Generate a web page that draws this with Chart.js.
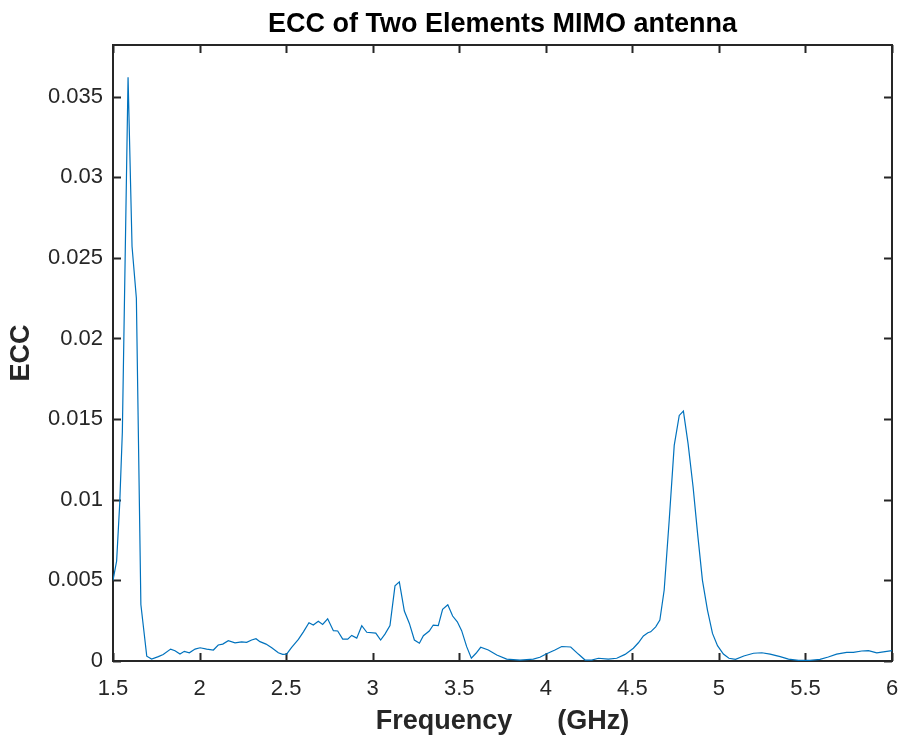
<!DOCTYPE html>
<html>
<head>
<meta charset="utf-8">
<title>ECC of Two Elements MIMO antenna</title>
<script src="https://cdn.jsdelivr.net/npm/chart.js@4.4.1/dist/chart.umd.min.js"></script>
<style>
  html, body { margin: 0; padding: 0; background: #fff; }
  #wrap { width: 901px; height: 738px; }
</style>
</head>
<body>
<div id="wrap"><canvas id="eccChart" width="901" height="738"></canvas></div>
<script>
// frequency sweep (GHz) and envelope correlation coefficient
var freqGHz = [
  1.500, 1.521, 1.539, 1.554, 1.587, 1.610, 1.635, 1.661, 1.695, 1.723,
  1.762, 1.790, 1.833, 1.858, 1.887, 1.912, 1.941, 1.974, 2.003, 2.041,
  2.080, 2.108, 2.134, 2.166, 2.205, 2.243, 2.272, 2.301, 2.326, 2.349,
  2.384, 2.417, 2.455, 2.480, 2.503, 2.532, 2.571, 2.600, 2.632, 2.657,
  2.686, 2.711, 2.740, 2.773, 2.798, 2.827, 2.856, 2.879, 2.908, 2.937,
  2.966, 3.018, 3.046, 3.071, 3.100, 3.129, 3.154, 3.183, 3.212, 3.241,
  3.270, 3.293, 3.327, 3.350, 3.379, 3.404, 3.434, 3.462, 3.489, 3.514,
  3.543, 3.570, 3.597, 3.624, 3.668, 3.717, 3.774, 3.851, 3.928, 3.966,
  4.005, 4.053, 4.092, 4.144, 4.188, 4.227, 4.265, 4.304, 4.361, 4.410,
  4.458, 4.506, 4.535, 4.564, 4.590, 4.606, 4.635, 4.659, 4.684, 4.713,
  4.742, 4.771, 4.795, 4.822, 4.851, 4.877, 4.905, 4.934, 4.963, 4.992,
  5.026, 5.058, 5.096, 5.144, 5.200, 5.248, 5.296, 5.354, 5.402, 5.460,
  5.526, 5.584, 5.632, 5.680, 5.738, 5.777, 5.825, 5.864, 5.912, 5.960,
  6.000
];
var ecc = [
  0.00500, 0.00620, 0.00980, 0.01420, 0.03620, 0.02570, 0.02250, 0.00350, 0.00030, 0.00012,
  0.00027, 0.00040, 0.00074, 0.00064, 0.00043, 0.00060, 0.00051, 0.00074, 0.00082, 0.00074,
  0.00068, 0.00099, 0.00105, 0.00126, 0.00113, 0.00118, 0.00116, 0.00130, 0.00138, 0.00120,
  0.00105, 0.00082, 0.00051, 0.00041, 0.00043, 0.00085, 0.00134, 0.00181, 0.00237, 0.00223,
  0.00246, 0.00227, 0.00262, 0.00188, 0.00186, 0.00136, 0.00136, 0.00159, 0.00142, 0.00219,
  0.00178, 0.00173, 0.00130, 0.00167, 0.00220, 0.00466, 0.00491, 0.00310, 0.00233, 0.00130,
  0.00110, 0.00157, 0.00186, 0.00223, 0.00219, 0.00320, 0.00349, 0.00279, 0.00243, 0.00188,
  0.00089, 0.00017, 0.00048, 0.00085, 0.00068, 0.00037, 0.00012, 0.00006, 0.00012, 0.00023,
  0.00045, 0.00068, 0.00090, 0.00087, 0.00043, 0.00006, 0.00006, 0.00017, 0.00012, 0.00017,
  0.00041, 0.00079, 0.00113, 0.00155, 0.00175, 0.00181, 0.00212, 0.00254, 0.00440, 0.00873,
  0.01337, 0.01523, 0.01550, 0.01348, 0.01079, 0.00790, 0.00500, 0.00316, 0.00171, 0.00095,
  0.00043, 0.00017, 0.00010, 0.00031, 0.00048, 0.00051, 0.00043, 0.00027, 0.00012, 0.00004,
  0.00004, 0.00010, 0.00025, 0.00043, 0.00054, 0.00054, 0.00062, 0.00064, 0.00051, 0.00058,
  0.00064
];

var titleText = 'ECC of Two Elements MIMO antenna';
var xLabel = 'Frequency      (GHz)';
var yLabel = 'ECC';

var fontFamily = '"Liberation Sans", Arial, Helvetica, sans-serif';
var axisColor = '#262626';

var points = [];
for (var i = 0; i < freqGHz.length; i++) {
  points.push({ x: freqGHz[i], y: ecc[i] });
}

// tick text without trailing zeros: 2, 2.5, 0.01, 0.015 ...
function shortNum(v) {
  return String(parseFloat(Number(v).toFixed(4)));
}

// MATLAB-like boxed axes with inward ticks on all four sides
var boxAxes = {
  id: 'boxAxes',
  beforeDatasetsDraw: function (chart) {
    var ctx = chart.ctx;
    var a = chart.chartArea;
    var xs = chart.scales.x;
    var ys = chart.scales.y;
    var len = 8;
    ctx.save();
    ctx.strokeStyle = axisColor;
    ctx.lineWidth = 2;
    ctx.beginPath();
    xs.ticks.forEach(function (t) {
      var px = Math.round(xs.getPixelForValue(t.value)) + 0.5;
      ctx.moveTo(px, a.bottom);
      ctx.lineTo(px, a.bottom - len);
      ctx.moveTo(px, a.top);
      ctx.lineTo(px, a.top + len);
    });
    ys.ticks.forEach(function (t) {
      var py = Math.round(ys.getPixelForValue(t.value)) + 0.5;
      ctx.moveTo(a.left, py);
      ctx.lineTo(a.left + len, py);
      ctx.moveTo(a.right, py);
      ctx.lineTo(a.right - len, py);
    });
    ctx.stroke();
    ctx.strokeRect(a.left, a.top, a.right - a.left, a.bottom - a.top);
    ctx.restore();
  }
};

var canvasBg = {
  id: 'canvasBg',
  beforeDraw: function (chart) {
    var ctx = chart.ctx;
    ctx.save();
    ctx.fillStyle = '#ffffff';
    ctx.fillRect(0, 0, chart.width, chart.height);
    ctx.restore();
  }
};

new Chart(document.getElementById('eccChart'), {
  type: 'line',
  data: {
    datasets: [{
      data: points,
      borderColor: '#0072BD',
      borderWidth: 1.2,
      pointRadius: 0,
      tension: 0,
      fill: false
    }]
  },
  options: {
    responsive: false,
    animation: false,
    layout: { padding: { left: 0, right: 9, top: 0, bottom: 0 } },
    plugins: {
      legend: { display: false },
      tooltip: { enabled: false },
      title: {
        display: true,
        fullSize: false,
        text: titleText,
        color: '#000',
        font: { family: fontFamily, size: 27, weight: 'bold' },
        padding: { top: 8, bottom: 4.6 }
      }
    },
    scales: {
      x: {
        type: 'linear',
        min: 1.5,
        max: 6,
        grid: { display: false, drawTicks: false },
        border: { display: false },
        ticks: {
          stepSize: 0.5,
          includeBounds: false,
          color: axisColor,
          padding: 15,
          maxRotation: 0,
          font: { family: fontFamily, size: 22 },
          callback: shortNum
        },
        title: {
          display: true,
          text: xLabel,
          color: axisColor,
          font: { family: fontFamily, size: 27, weight: 'bold' },
          padding: { top: 0, bottom: 0 }
        },
        afterFit: function (scale) {
          scale.height = 77;
          scale.paddingLeft = 0;
          scale.paddingRight = 0;
        }
      },
      y: {
        type: 'linear',
        min: 0,
        max: 0.0382,
        grid: { display: false, drawTicks: false },
        border: { display: false },
        ticks: {
          stepSize: 0.005,
          includeBounds: false,
          color: axisColor,
          padding: 10,
          font: { family: fontFamily, size: 22 },
          callback: shortNum
        },
        title: {
          display: true,
          text: yLabel,
          color: axisColor,
          font: { family: fontFamily, size: 27, weight: 'bold' },
          padding: { top: 5, bottom: 0 }
        },
        afterFit: function (scale) { scale.width = 113; }
      }
    }
  },
  plugins: [canvasBg, boxAxes]
});
</script>
</body>
</html>
